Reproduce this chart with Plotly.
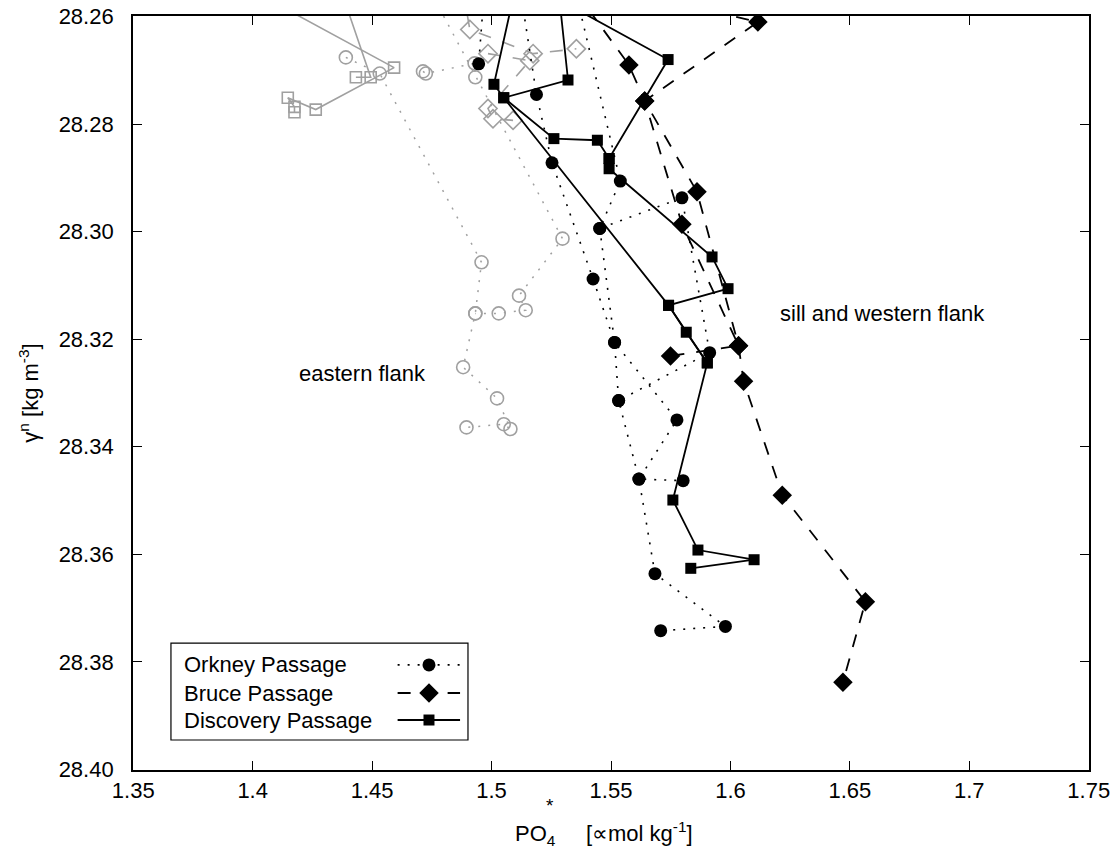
import plotly.graph_objects as go

# ---------------- data (PO4* vs neutral density) ----------------
# Sill and western flank (black)
ork_x = [[1.512, 1.5188, 1.5253, 1.5425, 1.5515, 1.5532, 1.5617, 1.5684, 1.5979, 1.5708],
         [1.535, 1.5539, 1.5453, 1.5797, 1.5913, 1.5532],
         [1.5453, 1.5515, 1.5776, 1.5617, 1.5802],
         [1.497, 1.4946]]
ork_y = [[28.255, 28.2745, 28.2872, 28.3088, 28.3206, 28.3314, 28.3460, 28.3636, 28.3734, 28.3742],
         [28.255, 28.2906, 28.2994, 28.2937, 28.3225, 28.3314],
         [28.2994, 28.3206, 28.3350, 28.3460, 28.3463],
         [28.255, 28.2688]]

bru_x = [[1.5346, 1.5575, 1.5641, 1.5797, 1.6034, 1.5749],
         [1.582, 1.6115, 1.5641, 1.5860, 1.6034, 1.6055, 1.6217, 1.6565, 1.6471]]
bru_y = [[28.255, 28.2690, 28.2757, 28.2986, 28.3212, 28.3231],
         [28.258, 28.2610, 28.2757, 28.2926, 28.3212, 28.3278, 28.3490, 28.3688, 28.3838]]

dis_x = [[1.5098, 1.5010, 1.5051, 1.5261, 1.5443, 1.5492, 1.5492, 1.5923, 1.5990, 1.5741,
          1.5815, 1.5903, 1.5759, 1.5864, 1.6099, 1.5834],
         [1.5280, 1.5320, 1.5051, 1.5741, 1.5903],
         [1.5205, 1.5739, 1.5492]]
dis_y = [[28.255, 28.2726, 28.2751, 28.2827, 28.2830, 28.2864, 28.2883, 28.3047, 28.3106, 28.3137,
          28.3187, 28.3244, 28.3499, 28.3592, 28.3610, 28.3626],
         [28.255, 28.2718, 28.2751, 28.3137, 28.3244],
         [28.255, 28.2680, 28.2864]]

# Eastern flank (grey)
e_ork_x = [[1.4390, 1.4532, 1.4958, 1.4932, 1.4881, 1.5023, 1.5079, 1.5051, 1.4895],
           [1.474, 1.5297, 1.5115, 1.5143, 1.5030, 1.4932],
           [1.4713, 1.4725, 1.4929, 1.4932]]
e_ork_y = [[28.2676, 28.2706, 28.3057, 28.3152, 28.3252, 28.3310, 28.3367, 28.3358, 28.3364],
           [28.255, 28.3013, 28.3119, 28.3146, 28.3152, 28.3152],
           [28.2702, 28.2706, 28.2687, 28.2713]]

e_bru_x = [[1.488, 1.4909, 1.5174, 1.5355],
           [1.4985, 1.5160, 1.4985, 1.5006, 1.5090]]
e_bru_y = [[28.255, 28.2624, 28.2669, 28.2660],
           [28.2669, 28.2682, 28.2771, 28.2790, 28.2793]]

e_dis_x = [[1.399, 1.4592, 1.4264, 1.4147, 1.4175, 1.4175],
           [1.4369, 1.4494, 1.4432]]
e_dis_y = [[28.255, 28.2695, 28.2773, 28.2751, 28.2768, 28.2778],
           [28.255, 28.2713, 28.2713]]

x_ticks = [1.35, 1.40, 1.45, 1.50, 1.55, 1.60, 1.65, 1.70, 1.75]
x_tick_text = ["1.35", "1.4", "1.45", "1.5", "1.55", "1.6", "1.65", "1.7", "1.75"]
y_ticks = [28.26, 28.28, 28.30, 28.32, 28.34, 28.36, 28.38, 28.40]
y_tick_text = ["28.26", "28.28", "28.30", "28.32", "28.34", "28.36", "28.38", "28.40"]

legend_names = ["Orkney Passage", "Bruce Passage", "Discovery Passage"]


def flat(profiles):
    out = []
    for i, p in enumerate(profiles):
        if i:
            out.append(None)
        out.extend(p)
    return out


BLACK = "#000000"
GREY = "#a0a0a0"
DOT = "2px,8px"
DASH = "13px,12px"
FONT = "Liberation Sans, Arial, sans-serif"
NB = "\u00a0"

fig = go.Figure()

# grey eastern flank first (drawn beneath)
fig.add_trace(go.Scatter(x=flat(e_ork_x), y=flat(e_ork_y), mode="lines+markers",
                         line=dict(color=GREY, width=1.5, dash=DOT),
                         marker=dict(symbol="circle-open", size=13, color=GREY, line=dict(width=1.6)),
                         showlegend=False, name="Orkney (east)"))
fig.add_trace(go.Scatter(x=flat(e_bru_x), y=flat(e_bru_y), mode="lines+markers",
                         line=dict(color=GREY, width=1.6, dash=DASH),
                         marker=dict(symbol="diamond-open", size=14, color=GREY, line=dict(width=1.6)),
                         showlegend=False, name="Bruce (east)"))
fig.add_trace(go.Scatter(x=flat(e_dis_x), y=flat(e_dis_y), mode="lines+markers",
                         line=dict(color=GREY, width=1.6),
                         marker=dict(symbol="square-open", size=11, color=GREY, line=dict(width=1.6)),
                         showlegend=False, name="Discovery (east)"))

# black sill / western flank
fig.add_trace(go.Scatter(x=flat(ork_x), y=flat(ork_y), mode="lines+markers",
                         line=dict(color=BLACK, width=1.6, dash=DOT),
                         marker=dict(symbol="circle", size=13, color=BLACK),
                         showlegend=False, name=legend_names[0]))
fig.add_trace(go.Scatter(x=flat(bru_x), y=flat(bru_y), mode="lines+markers",
                         line=dict(color=BLACK, width=1.8, dash=DASH),
                         marker=dict(symbol="diamond", size=15, color=BLACK),
                         showlegend=False, name=legend_names[1]))
fig.add_trace(go.Scatter(x=flat(dis_x), y=flat(dis_y), mode="lines+markers",
                         line=dict(color=BLACK, width=1.8),
                         marker=dict(symbol="square", size=11, color=BLACK),
                         showlegend=False, name=legend_names[2]))

# ---- manual legend (MATLAB style: text then sample) on an overlay axis ----
rows_y = [0.1393, 0.1021, 0.0663]
styles = [(DOT, "circle", 13), (DASH, "diamond", 15), ("solid", "square", 11)]
for name, ry, (dsh, sym, sz) in zip(legend_names, rows_y, styles):
    fig.add_trace(go.Scatter(x=[0.2768, 0.3421], y=[ry, ry], xaxis="x2", yaxis="y2",
                             mode="lines", line=dict(color=BLACK, width=1.8, dash=dsh),
                             showlegend=False, hoverinfo="skip"))
    fig.add_trace(go.Scatter(x=[0.3096], y=[ry], xaxis="x2", yaxis="y2", mode="markers",
                             marker=dict(symbol=sym, size=sz, color=BLACK),
                             showlegend=False, hoverinfo="skip"))
    fig.add_annotation(x=0.0509, y=ry, xref="paper", yref="paper", text=name,
                       showarrow=False, xanchor="left", yanchor="middle",
                       font=dict(size=22, color=BLACK, family=FONT))

fig.add_shape(type="rect", xref="paper", yref="paper", x0=0.0397, x1=0.3504, y0=0.0398, y1=0.1684,
              line=dict(color=BLACK, width=1.2), fillcolor="rgba(255,255,255,0)", layer="above")

fig.add_annotation(x=1.4733, y=28.3263, text="eastern flank", showarrow=False,
                   xanchor="right", yanchor="middle", font=dict(size=22, color=BLACK, family=FONT))
fig.add_annotation(x=1.6199, y=28.3152, text="sill and western flank", showarrow=False,
                   xanchor="left", yanchor="middle", font=dict(size=22, color=BLACK, family=FONT))

# x-axis title (PO4 with the star stacked above the subscript)
fig.add_annotation(x=0.3975, y=-0.0836, xref="paper", yref="paper",
                   text="PO<sub>4</sub>" + NB * 5 + "[∝mol kg<sup>-1</sup>]",
                   showarrow=False, xanchor="left", yanchor="middle",
                   font=dict(size=22, color=BLACK, family=FONT))
fig.add_annotation(x=0.4365, y=-0.0470, xref="paper", yref="paper", text="*",
                   showarrow=False, xanchor="center", yanchor="middle",
                   font=dict(size=19, color=BLACK, family=FONT))

axis_common = dict(showgrid=False, zeroline=False, showline=True, linecolor=BLACK, linewidth=1.8,
                   mirror="ticks", ticks="inside", ticklen=9, tickwidth=1.3, tickcolor=BLACK,
                   ticklabeloverflow="allow", automargin=False,
                   tickfont=dict(size=22, color=BLACK, family=FONT))

fig.update_layout(
    width=1115, height=853,
    margin=dict(l=133, r=26, t=16, b=83),
    plot_bgcolor="white", paper_bgcolor="white",
    font=dict(family=FONT, size=22, color=BLACK),
    xaxis=dict(range=[1.3499, 1.7501], tickvals=x_ticks, ticktext=x_tick_text, **axis_common),
    yaxis=dict(range=[28.4001, 28.2599], tickvals=y_ticks, ticktext=y_tick_text,
               ticklabelstandoff=13,
               title=dict(text="γ<sup>n</sup> [kg m<sup>-3</sup>]", standoff=14,
                          font=dict(size=22, family=FONT)),
               **axis_common),
    xaxis2=dict(overlaying="x", range=[0, 1], visible=False, fixedrange=True),
    yaxis2=dict(overlaying="y", range=[0, 1], visible=False, fixedrange=True),
    showlegend=False,
)

fig.write_html("out.html", config={"displayModeBar": False},
               post_script="document.body.style.margin='0';document.body.style.overflow='hidden';")
